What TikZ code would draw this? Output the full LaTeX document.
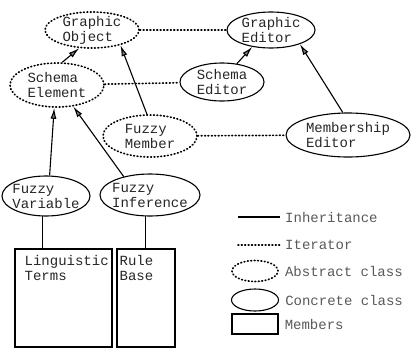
\documentclass[tikz,border=0pt]{standalone}
\usepackage{fontspec}
\usepackage{tikz}
\usetikzlibrary{shapes.geometric, arrows.meta, positioning}
\newfontfamily\monofam{Liberation Mono}
\newcommand\cls{\fontsize{14}{15}\selectfont\monofam}
\tikzstyle{abstract} = [ellipse, draw=black, line width=1.7pt, dash pattern=on 0.8pt off 2.6pt, line cap=round, inner sep=-3pt, align=left, font=\cls, text=black!85]
\tikzstyle{concrete} = [ellipse, draw=black, line width=1.1pt, inner sep=-3pt, align=left, font=\cls, text=black!85]
\tikzstyle{member} = [rectangle, draw=black, line width=1.1pt]
\tikzstyle{boxtxt} = [anchor=north west, align=left, font=\cls, text=black!85, inner sep=0pt, yshift=-7pt]
\tikzstyle{legendtxt} = [anchor=west, font=\cls, text=black!65, inner sep=0pt]
\tikzstyle{inherit} = [line width=1.1pt, -{Latex[length=11pt, width=6pt, fill=gray]}]
\tikzstyle{iter} = [line width=1.7pt, dash pattern=on 0.8pt off 2.6pt, line cap=round]
\tikzstyle{link} = [line width=1.1pt]

\begin{document}
\begin{tikzpicture}[x=1pt, y=-1pt]
\useasboundingbox (0,0) rectangle (411,348);
\node (gobj) [abstract, minimum width=94pt, minimum height=36pt] at (92,30) {Graphic\\Object};
\node (gedit) [concrete, minimum width=88pt, minimum height=36pt] at (271,30) {Graphic\\Editor};
\node (selem) [abstract, minimum width=94pt, minimum height=44pt] at (57,85) {Schema\\Element};
\node (sedit) [concrete, minimum width=84pt, minimum height=38pt] at (222,82) {Schema\\Editor};
\node (fmem) [abstract, minimum width=94pt, minimum height=42pt] at (150,136) {Fuzzy\\Member};
\node (medit) [concrete, minimum width=124pt, minimum height=44pt] at (348,135) {Membership\\Editor};
\node (fvar) [concrete, minimum width=88pt, minimum height=40pt] at (46,196) {Fuzzy\\Variable};
\node (finf) [concrete, minimum width=100pt, minimum height=42pt] at (150,195) {Fuzzy\\Inference};

\node (terms) [member, minimum width=97pt, minimum height=98pt, label={[boxtxt, xshift=10pt]north west:Linguistic\\Terms}] at (63.5,298) {};
\node (rbase) [member, minimum width=58pt, minimum height=98pt, label={[boxtxt, xshift=3pt]north west:Rule\\Base}] at (146,298) {};

% inheritance
\draw[inherit] (selem.77) -- (gobj.235);
\draw[inherit] (fmem.98) -- (gobj.332);
\draw[inherit] (fvar.80) -- (selem.263);
\draw[inherit] (finf.145) -- (selem.307);
\draw[inherit] (sedit.51) -- (gedit.222);
\draw[inherit] (medit.103) -- (gedit.334);

% iterators
\draw[iter] (gobj) -- (gedit);
\draw[iter] (selem) -- (sedit);
\draw[iter] (fmem) -- (medit);

\draw[link] (fvar.260) -- (fvar.260 |- terms.north);
\draw[link] (finf.258) -- (finf.258 |- rbase.north);

% legend
\coordinate (inhA) at (238,217);
\coordinate (inhB) at (280,217);
\draw[link] (inhA) -- (inhB);
\node (inhtxt) [legendtxt, right=5pt of inhB] {Inheritance};
\coordinate (itA) at (238,245);
\coordinate (itB) at (280,245);
\draw[iter] (itA) -- (itB);
\node (ittxt) [legendtxt, right=5pt of itB] {Iterator};
\node (abs) [abstract, minimum width=46pt, minimum height=21pt] at (255,271) {};
\node (abstxt) [legendtxt, right=6pt of abs] {Abstract class};
\node (conc) [concrete, minimum width=47pt, minimum height=22pt] at (255,300) {};
\node (conctxt) [legendtxt, right=6pt of conc] {Concrete class};
\node (memb) [member, minimum width=46pt, minimum height=20pt] at (255,324) {};
\node (membtxt) [legendtxt, right=6pt of memb] {Members};
\end{tikzpicture}
\end{document}
